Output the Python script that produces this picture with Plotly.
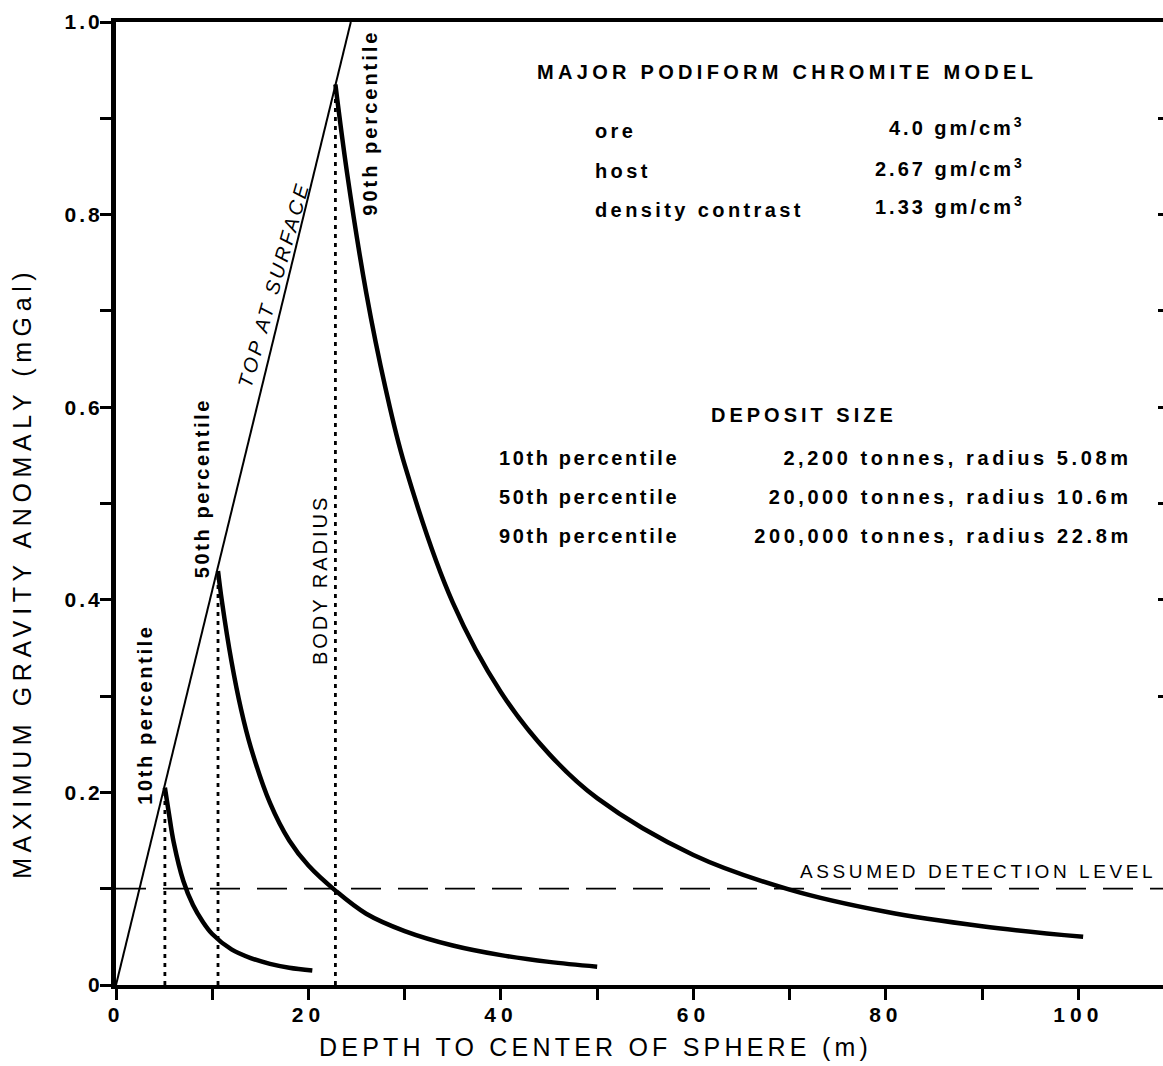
import json
import plotly.graph_objects as go

# Peak gravity anomaly (mGal) versus depth to the sphere centre (m)
depth_10 = [5.08, 5.5, 6, 7, 8, 9, 10, 12, 14, 16, 18, 20.4]
anom_10 = [0.205, 0.178, 0.148, 0.108, 0.083, 0.066, 0.053, 0.037, 0.028, 0.022, 0.018, 0.015]

depth_50 = [10.6, 11, 12, 13, 14, 16, 18, 20, 22.8, 26, 30, 35, 40, 45, 50]
anom_50 = [0.43, 0.399, 0.336, 0.286, 0.247, 0.189, 0.150, 0.124, 0.098, 0.074, 0.056, 0.041, 0.031, 0.024, 0.019]

depth_90 = [22.8, 24, 26, 28, 30, 35, 40, 45, 50, 60, 70, 80, 90, 100.5]
anom_90 = [0.935, 0.844, 0.719, 0.620, 0.540, 0.397, 0.304, 0.240, 0.194, 0.135, 0.099, 0.076, 0.061, 0.050]

# Anomaly when the top of the body is at the surface (depth = radius)
surface_depth = [0, 24.4]
surface_anom = [0, 1.0]

radii = [5.08, 10.6, 22.8]
peak_anom = [0.205, 0.43, 0.935]
detection_level = 0.1

percentiles = ["10th percentile", "50th percentile", "90th percentile"]
tonnages = ["2,200 tonnes, radius 5.08m", "20,000 tonnes, radius 10.6m",
            "200,000 tonnes, radius 22.8m"]
density_names = ["ore", "host", "density contrast"]
density_values = ["4.0", "2.67", "1.33"]

x_tickvals = [0, 20, 40, 60, 80, 100]
x_ticktext = ["0", "20", "40", "60", "80", "100"]
y_tickvals = [0, 0.2, 0.4, 0.6, 0.8, 1.0]
y_ticktext = ["0", "0.2", "0.4", "0.6", "0.8", "1.0"]
right_tickvals = [0.3, 0.4, 0.5, 0.6, 0.7, 0.8, 0.9]

X_MAX = 108.8
FONT = "Liberation Sans, Arial, sans-serif"

fig = go.Figure()

curve = dict(color="black", width=4.5, shape="spline")
for xs, ys in [(depth_10, anom_10), (depth_50, anom_50), (depth_90, anom_90)]:
    fig.add_trace(go.Scatter(x=xs, y=ys, mode="lines", line=curve, hoverinfo="skip"))

fig.add_trace(go.Scatter(x=surface_depth, y=surface_anom, mode="lines",
                         line=dict(color="black", width=2), hoverinfo="skip"))

for r, p in zip(radii, peak_anom):
    fig.add_trace(go.Scatter(x=[r, r], y=[0, p], mode="lines",
                             line=dict(color="black", width=2.8, dash="4px,5px"),
                             hoverinfo="skip"))

fig.add_trace(go.Scatter(x=[0, X_MAX], y=[detection_level, detection_level], mode="lines",
                         line=dict(color="black", width=1.8, dash="30px,17px"),
                         yaxis="y2", hoverinfo="skip"))

annotations = []
spacing = []


def note(text, x, y, size=20, weight="bold", ls=0.0, xanchor="center", yanchor="middle",
         angle=0, style="normal", xref="x", yref="y"):
    align = {"left": "left", "right": "right"}.get(xanchor, "center")
    annotations.append(dict(
        text=text, x=x, y=y, xref=xref, yref=yref, showarrow=False,
        xanchor=xanchor, yanchor=yanchor, align=align, textangle=angle,
        font=dict(family=FONT, size=size, color="black", weight=weight, style=style),
    ))
    spacing.append(ls)


# Model parameters block
note("MAJOR PODIFORM CHROMITE MODEL", 43.5, 0.948, ls=4.3, xanchor="left")
for name, val, yv in zip(density_names, density_values, [0.887, 0.845, 0.805]):
    note(name, 49.6, yv, ls=3.4, xanchor="left")
    note(val + " gm/cm<sup>3</sup>", 94.7, yv + 0.004, ls=3.0, xanchor="right")

# Deposit size block
note("DEPOSIT SIZE", 61.6, 0.592, ls=4.0, xanchor="left")
for pct, ton, yv in zip(percentiles, tonnages, [0.547, 0.507, 0.466]):
    note(pct, 39.6, yv, ls=2.6, xanchor="left")
    note(ton, 105.8, yv, ls=3.6, xanchor="right")

# Labels along the curves
note(percentiles[0], 3.1, 0.281, ls=2.6, angle=-90)
note(percentiles[1], 8.9, 0.516, ls=2.6, angle=-90)
note(percentiles[2], 26.4, 0.895, ls=3.0, angle=-90)
note("BODY RADIUS", 21.2, 0.420, weight="normal", ls=3.0, angle=-90)
note("TOP AT SURFACE", 16.4, 0.728, weight="normal", style="italic", ls=3.2, angle=-74)
note("ASSUMED DETECTION LEVEL", 70.9, 0.118, size=19, weight="normal", ls=3.6, xanchor="left")

# Axis titles
note("DEPTH TO CENTER OF SPHERE (m)", 0.458, -0.064, size=25, weight="normal", ls=4.2,
     xref="paper", yref="paper")
note("MAXIMUM GRAVITY ANOMALY (mGal)", -0.0898, 0.428, size=25, weight="normal", ls=5.6,
     angle=-90, xref="paper", yref="paper")

tickfont = dict(family=FONT, size=21, color="black", weight="bold")

fig.update_layout(
    width=1163, height=1066,
    margin=dict(l=116, r=0, t=22, b=81),
    paper_bgcolor="white", plot_bgcolor="white",
    showlegend=False,
    annotations=annotations,
    xaxis=dict(
        range=[0, X_MAX], showgrid=False, zeroline=False,
        showline=True, linecolor="black", linewidth=4, mirror=True,
        ticks="outside", ticklen=11, tickwidth=2.5, tickcolor="black",
        tickmode="array", tickvals=x_tickvals, ticktext=x_ticktext,
        minor=dict(dtick=10, tick0=0, ticks="outside", ticklen=11, tickwidth=2.5,
                   tickcolor="black", showgrid=False),
        tickfont=tickfont, ticklabelstandoff=-3,
    ),
    yaxis=dict(
        range=[0, 1.0], showgrid=False, zeroline=False,
        showline=True, linecolor="black", linewidth=5,
        ticks="outside", ticklen=11, tickwidth=2.5, tickcolor="black",
        tickmode="array", tickvals=y_tickvals, ticktext=y_ticktext,
        minor=dict(dtick=0.1, tick0=0, ticks="outside", ticklen=11, tickwidth=2.5,
                   tickcolor="black", showgrid=False),
        tickfont=tickfont, ticklabelstandoff=-7,
    ),
    yaxis2=dict(
        range=[0, 1.0], overlaying="y", side="right", anchor="x",
        showgrid=False, zeroline=False, showline=False,
        ticks="inside", ticklen=5, tickwidth=3, tickcolor="black",
        tickmode="array", tickvals=right_tickvals, showticklabels=False,
    ),
)

post = """
var ls = %s;
document.querySelectorAll('g.annotation').forEach(function (g) {
  var i = parseInt(g.getAttribute('data-index'), 10);
  var t = g.querySelector('text.annotation-text');
  if (t && ls[i]) { t.style.letterSpacing = ls[i] + 'px'; }
});
document.querySelectorAll('.xtick text').forEach(function (t) { t.style.letterSpacing = '5px'; });
document.querySelectorAll('.ytick text').forEach(function (t) { t.style.letterSpacing = '3px'; });
""" % json.dumps(spacing)

fig.write_html("out.html", post_script=post)
